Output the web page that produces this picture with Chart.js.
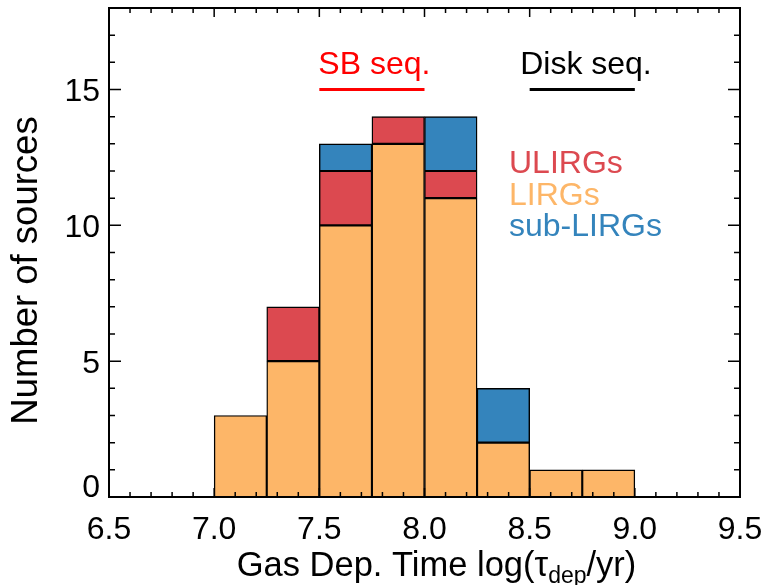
<!DOCTYPE html>
<html>
<head>
<meta charset="utf-8">
<script src="https://cdn.jsdelivr.net/npm/chart.js@4/dist/chart.umd.min.js"></script>
<style>
  html, body { margin: 0; padding: 0; background: #ffffff; }
  #wrap { width: 766px; height: 585px; }
</style>
</head>
<body>
<div id="wrap"><canvas id="c" width="766" height="585"></canvas></div>
<script>
// ---- data ----
const binCenters = [7.125, 7.375, 7.625, 7.875, 8.125, 8.375, 8.625, 8.875];
const lirgCounts = [3, 5, 10, 13, 11, 2, 1, 1];
const ulirgCounts = [0, 2, 2, 1, 1, 0, 0, 0];
const subLirgCounts = [0, 0, 1, 0, 2, 2, 0, 0];
const xTickValues = [6.5, 7.0, 7.5, 8.0, 8.5, 9.0, 9.5];
const yTickValues = [0, 5, 10, 15];
const sbSeqRange = [7.5, 8.0];
const diskSeqRange = [8.5, 9.0];
const seqLevel = [15, 15];
const seriesNames = ['ULIRGs', 'LIRGs', 'sub-LIRGs'];

const COL_ULIRG = '#DC4950';
const COL_LIRG = '#FDB668';
const COL_SUB = '#3484BC';
const FONT = '"Liberation Sans", Arial, Helvetica, sans-serif';

function toPoints(counts) {
  return binCenters.map((x, i) => ({ x: x, y: counts[i] === 0 ? null : counts[i] }));
}
function rangePoints(range) {
  return range.map((x, i) => ({ x: x, y: seqLevel[i] }));
}

const barStyle = {
  type: 'bar',
  borderColor: '#000000',
  borderWidth: 1.4,
  borderSkipped: false,
  barPercentage: 1.0,
  categoryPercentage: 1.0,
  stack: 'hist'
};

const decorPlugin = {
  id: 'decor',
  afterDraw(chart) {
    const ctx = chart.ctx;
    const a = chart.chartArea;
    const xs = chart.scales.x, ys = chart.scales.y;
    ctx.save();
    // frame
    ctx.strokeStyle = '#000';
    ctx.lineWidth = 2;
    ctx.strokeRect(a.left, a.top, a.right - a.left, a.bottom - a.top);
    // ticks
    ctx.lineWidth = 1.5;
    ctx.beginPath();
    const xMinor = 0.1, yMinor = 1;
    for (let v = xs.min; v <= xs.max + 1e-9; v += xMinor) {
      const vv = Math.round(v * 10) / 10;
      const isMajor = Math.abs(vv * 2 - Math.round(vv * 2)) < 1e-6;
      const len = isMajor ? 9 : 5;
      const p = xs.getPixelForValue(vv);
      ctx.moveTo(p, a.bottom); ctx.lineTo(p, a.bottom - len);
      ctx.moveTo(p, a.top); ctx.lineTo(p, a.top + len);
    }
    for (let v = ys.min; v <= ys.max + 1e-9; v += yMinor) {
      const isMajor = (Math.round(v) % 5) === 0;
      const len = isMajor ? 12 : 6;
      const p = ys.getPixelForValue(v);
      ctx.moveTo(a.left, p); ctx.lineTo(a.left + len, p);
      ctx.moveTo(a.right, p); ctx.lineTo(a.right - len, p);
    }
    ctx.stroke();

    // tick labels
    ctx.fillStyle = '#000';
    ctx.font = '32px ' + FONT;
    ctx.textAlign = 'center';
    ctx.textBaseline = 'alphabetic';
    xTickValues.forEach(v => {
      ctx.fillText(v.toFixed(1), xs.getPixelForValue(v), 539);
    });
    ctx.textAlign = 'right';
    yTickValues.forEach(v => {
      const p = ys.getPixelForValue(v);
      ctx.fillText(String(v), a.left - 9, Math.min(p + 11.5, a.bottom));
    });

    // x title with subscript
    const mainSize = 34.5, subSize = 23;
    const part1 = 'Gas Dep. Time log(\u03C4', sub = 'dep', part2 = '/yr)';
    ctx.font = mainSize + 'px ' + FONT;
    const w1 = ctx.measureText(part1).width;
    const w3 = ctx.measureText(part2).width;
    ctx.font = subSize + 'px ' + FONT;
    const w2 = ctx.measureText(sub).width;
    const total = w1 + w2 + w3;
    let x0 = (a.left + a.right) / 2 + 12 - total / 2;
    const base = 576;
    ctx.textAlign = 'left';
    ctx.font = mainSize + 'px ' + FONT;
    ctx.fillText(part1, x0, base);
    ctx.font = subSize + 'px ' + FONT;
    ctx.fillText(sub, x0 + w1, base + 7);
    ctx.font = mainSize + 'px ' + FONT;
    ctx.fillText(part2, x0 + w1 + w2, base);

    // y title
    ctx.save();
    ctx.translate(37, (a.top + a.bottom) / 2 + 18);
    ctx.rotate(-Math.PI / 2);
    ctx.font = '36.5px ' + FONT;
    ctx.textAlign = 'center';
    ctx.textBaseline = 'alphabetic';
    ctx.fillText('Number of sources', 0, 0);
    ctx.restore();

    // sequence labels
    ctx.font = '32px ' + FONT;
    ctx.textAlign = 'left';
    ctx.fillStyle = '#FF0000';
    ctx.fillText('SB seq.', xs.getPixelForValue(sbSeqRange[0]) - 1, 74);
    ctx.fillStyle = '#000000';
    ctx.fillText('Disk seq.', xs.getPixelForValue(diskSeqRange[0]) - 9.5, 74);

    // legend texts
    const legendCols = [COL_ULIRG, COL_LIRG, COL_SUB];
    const legendBase = [173, 205, 236];
    seriesNames.forEach((name, i) => {
      ctx.fillStyle = legendCols[i];
      ctx.fillText(name, 509, legendBase[i]);
    });
    ctx.restore();
  }
};

new Chart(document.getElementById('c'), {
  type: 'bar',
  data: {
    datasets: [
      Object.assign({ label: seriesNames[1], data: toPoints(lirgCounts), backgroundColor: COL_LIRG }, barStyle),
      Object.assign({ label: seriesNames[0], data: toPoints(ulirgCounts), backgroundColor: COL_ULIRG }, barStyle),
      Object.assign({ label: seriesNames[2], data: toPoints(subLirgCounts), backgroundColor: COL_SUB }, barStyle),
      { type: 'line', label: 'SB seq.', data: rangePoints(sbSeqRange), borderColor: '#FF0000', borderWidth: 3,
        pointRadius: 0, fill: false, stack: 'sbline' },
      { type: 'line', label: 'Disk seq.', data: rangePoints(diskSeqRange), borderColor: '#000000', borderWidth: 3,
        pointRadius: 0, fill: false, stack: 'diskline' }
    ]
  },
  options: {
    responsive: false,
    animation: false,
    devicePixelRatio: 1,
    layout: { padding: { left: 109, right: 26, top: 8, bottom: 88 } },
    scales: {
      x: { type: 'linear', min: 6.5, max: 9.5, offset: false, stacked: true, display: false },
      y: { type: 'linear', min: 0, max: 18, stacked: true, display: false }
    },
    plugins: { legend: { display: false }, tooltip: { enabled: false } }
  },
  plugins: [decorPlugin]
});
</script>
</body>
</html>
